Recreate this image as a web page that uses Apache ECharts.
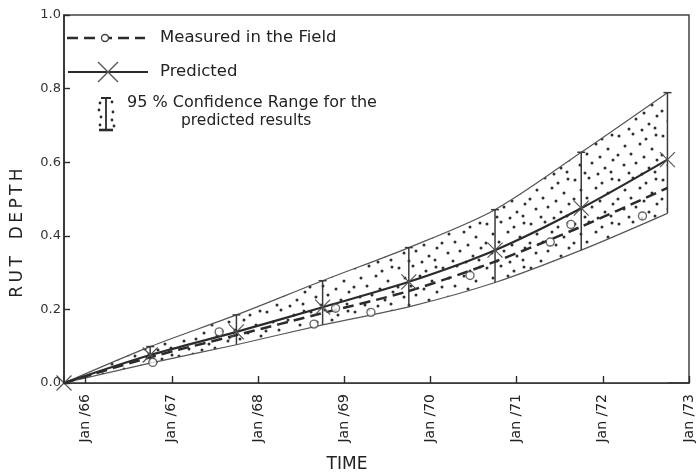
<!DOCTYPE html>
<html>
<head>
<meta charset="utf-8">
<title>Rut depth over time</title>
<script src="https://cdn.jsdelivr.net/npm/echarts@6/dist/echarts.min.js"></script>
<style>
  html, body { margin: 0; padding: 0; background: #ffffff; }
  #chart { width: 696px; height: 475px; }
</style>
</head>
<body>
<div id="chart"></div>
<script>
// Survey dates (decimal years, October of each year) at which predictions were made
const surveyDates = [1965.75, 1966.75, 1967.75, 1968.75, 1969.75, 1970.75, 1971.75, 1972.75];
// Predicted rut depth
const predictedDepth = [0, 0.076, 0.139, 0.206, 0.275, 0.361, 0.475, 0.607];
// Trend line through the field measurements
const measuredTrend = [0, 0.070, 0.130, 0.190, 0.250, 0.330, 0.425, 0.530];
// 95 % confidence range of the predictions
const upperLimit = [0, 0.099, 0.185, 0.278, 0.368, 0.471, 0.627, 0.789];
const lowerLimit = [0, 0.054, 0.104, 0.158, 0.207, 0.273, 0.361, 0.461];
// Individual field measurements
const fieldDates = [1966.78, 1967.55, 1968.65, 1968.90, 1969.31, 1970.46, 1971.39, 1971.63, 1972.46];
const fieldDepths = [0.056, 0.139, 0.160, 0.203, 0.192, 0.292, 0.383, 0.431, 0.454];
// Time axis ticks
const tickYears = [1966, 1967, 1968, 1969, 1970, 1971, 1972, 1973];
const tickLabels = ['Jan /66', 'Jan /67', 'Jan /68', 'Jan /69', 'Jan /70', 'Jan /71', 'Jan /72', 'Jan /73'];

const INK = '#2b2b2b';
const FONT = '"DejaVu Sans", sans-serif';

// Stippled fill used for the confidence band
function makeStipple() {
  const c = document.createElement('canvas');
  c.width = 44; c.height = 44;
  const g = c.getContext('2d');
  g.fillStyle = '#ffffff';
  g.fillRect(0, 0, 44, 44);
  g.fillStyle = '#2e2e2e';
  const dots = [[3,4],[17,2],[30,7],[40,3],[9,14],[24,12],[36,17],[2,23],[15,22],
                [28,25],[41,28],[8,33],[20,31],[33,36],[13,41],[26,42],[39,40]];
  dots.forEach(([x, y]) => { g.beginPath(); g.arc(x, y, 1.5, 0, Math.PI * 2); g.fill(); });
  return c;
}

const pair = (xs, ys) => xs.map((x, i) => [x, ys[i]]);
const rangeBars = surveyDates.map((x, i) => [x, lowerLimit[i], upperLimit[i]]).slice(1);

const chart = echarts.init(document.getElementById('chart'), null, { renderer: 'canvas' });

const crossPath = 'path://M0,0L10,10M10,0L0,10';

const option = {
  animation: false,
  backgroundColor: '#ffffff',
  grid: { left: 64, right: 7, top: 15, bottom: 92, show: true, borderColor: '#444', borderWidth: 1.5, backgroundColor: 'transparent' },
  xAxis: {
    type: 'value', min: 1965.75, max: 1973, z: 10,
    axisLine: { show: true, lineStyle: { color: INK, width: 1.6 } },
    axisTick: { show: true, inside: true, length: 7, customValues: tickYears, lineStyle: { color: INK, width: 1.4 } },
    axisLabel: {
      customValues: tickYears, rotate: 90, margin: 11, fontSize: 14, color: '#222', fontFamily: FONT,
      formatter: v => tickLabels[tickYears.indexOf(Math.round(v))] || ''
    },
    splitLine: { show: false }
  },
  yAxis: {
    type: 'value', min: 0, max: 1, interval: 0.2, z: 10,
    axisLine: { show: true, lineStyle: { color: INK, width: 1.6 } },
    axisTick: { show: true, inside: true, length: 6, lineStyle: { color: INK, width: 1.4 } },
    axisLabel: { margin: 3, fontSize: 13, color: '#333', fontFamily: FONT, formatter: v => v.toFixed(1) },
    splitLine: { show: false }
  },
  graphic: [
    // axis titles
    { type: 'text', x: 18, y: 233, rotation: Math.PI / 2, z: 10,
      style: { text: 'R\u2009U\u2009T\u2003D\u2009E\u2009P\u2009T\u2009H', font: '17px ' + FONT, fill: '#222', align: 'center', verticalAlign: 'middle' } },
    { type: 'text', x: 347, y: 465, z: 10,
      style: { text: 'TIME', font: '17px ' + FONT, fill: '#222', align: 'center', verticalAlign: 'middle' } },
    // key: measured
    { type: 'line', z: 10, shape: { x1: 67, y1: 38, x2: 145, y2: 38 }, style: { stroke: INK, lineWidth: 2.5, lineDash: [11, 6] } },
    { type: 'circle', z: 11, shape: { cx: 105, cy: 38, r: 3.5 }, style: { fill: '#fff', stroke: '#444', lineWidth: 1.4 } },
    { type: 'text', z: 10, x: 160, y: 38, style: { text: 'Measured in the Field', font: '16.5px ' + FONT, fill: '#222', verticalAlign: 'middle' } },
    // key: predicted
    { type: 'line', z: 10, shape: { x1: 68, y1: 72, x2: 148, y2: 72 }, style: { stroke: INK, lineWidth: 2.2 } },
    { type: 'line', z: 11, shape: { x1: 98, y1: 62, x2: 118, y2: 82 }, style: { stroke: '#555', lineWidth: 1.3 } },
    { type: 'line', z: 11, shape: { x1: 118, y1: 62, x2: 98, y2: 82 }, style: { stroke: '#555', lineWidth: 1.3 } },
    { type: 'text', z: 10, x: 160, y: 72, style: { text: 'Predicted', font: '16.5px ' + FONT, fill: '#222', verticalAlign: 'middle' } },
    // key: confidence range
    { type: 'line', z: 10, shape: { x1: 106, y1: 98, x2: 106, y2: 130 }, style: { stroke: INK, lineWidth: 1.8 } },
    { type: 'line', z: 10, shape: { x1: 101, y1: 98, x2: 111, y2: 98 }, style: { stroke: INK, lineWidth: 2 } },
    { type: 'line', z: 10, shape: { x1: 99, y1: 130, x2: 113, y2: 130 }, style: { stroke: INK, lineWidth: 2.6 } },
    ...[[100,103],[112,102],[99,110],[113,112],[101,117],[112,120],[100,125],[114,126]].map(([cx, cy]) => (
      { type: 'circle', z: 10, shape: { cx, cy, r: 1.4 }, style: { fill: INK } })),
    { type: 'text', z: 10, x: 127, y: 103, style: { text: '95 % Confidence Range for the', font: '16px ' + FONT, fill: '#222', verticalAlign: 'middle' } },
    { type: 'text', z: 10, x: 181, y: 121, style: { text: 'predicted results', font: '15.5px ' + FONT, fill: '#222', verticalAlign: 'middle' } }
  ],
  series: [
    {
      // upper limit, stippled down to the axis
      name: 'upper', type: 'line', smooth: 0.3, symbol: 'none', z: 1,
      lineStyle: { color: '#555', width: 1.2 },
      areaStyle: { color: { image: makeStipple(), repeat: 'repeat' }, opacity: 1, origin: 'start' },
      data: pair(surveyDates, upperLimit)
    },
    {
      // lower limit, clearing the stipple below it
      name: 'lower', type: 'line', smooth: 0.3, symbol: 'none', z: 1,
      lineStyle: { color: '#555', width: 1.2 },
      areaStyle: { color: '#ffffff', opacity: 1, origin: 'start' },
      data: pair(surveyDates, lowerLimit)
    },
    {
      name: 'range bars', type: 'custom', z: 3,
      renderItem: (params, api) => {
        const x = api.value(0);
        const lo = api.coord([x, api.value(1)]);
        const hi = api.coord([x, api.value(2)]);
        const base = api.coord([x, 0]);
        const s = { stroke: '#3a3a3a', lineWidth: 1.5 };
        return {
          type: 'group',
          children: [
            // keep the space under the band clean along the bar
            { type: 'line', shape: { x1: lo[0], y1: lo[1] + 2, x2: base[0], y2: base[1] - 2 }, style: { stroke: '#ffffff', lineWidth: 2.5 } },
            { type: 'line', shape: { x1: lo[0], y1: lo[1], x2: hi[0], y2: hi[1] }, style: s },
            { type: 'line', shape: { x1: hi[0] - 4, y1: hi[1], x2: hi[0] + 4, y2: hi[1] }, style: s }
          ]
        };
      },
      data: rangeBars
    },
    {
      name: 'Predicted', type: 'line', smooth: 0.3, z: 5,
      symbol: crossPath, symbolSize: 15, showSymbol: true,
      itemStyle: { color: 'rgba(0,0,0,0)', borderColor: '#555', borderWidth: 1.2 },
      lineStyle: { color: INK, width: 2.2 },
      data: pair(surveyDates, predictedDepth)
    },
    {
      name: 'Measured trend', type: 'line', smooth: 0.3, symbol: 'none', z: 4,
      lineStyle: { color: INK, width: 2.5, type: [11, 6] },
      data: pair(surveyDates, measuredTrend)
    },
    {
      name: 'Measured in the Field', type: 'scatter', z: 6,
      symbol: 'circle', symbolSize: 8,
      itemStyle: { color: '#ffffff', borderColor: '#444', borderWidth: 1.4 },
      data: pair(fieldDates, fieldDepths)
    }
  ]
};

chart.setOption(option);
</script>
</body>
</html>
